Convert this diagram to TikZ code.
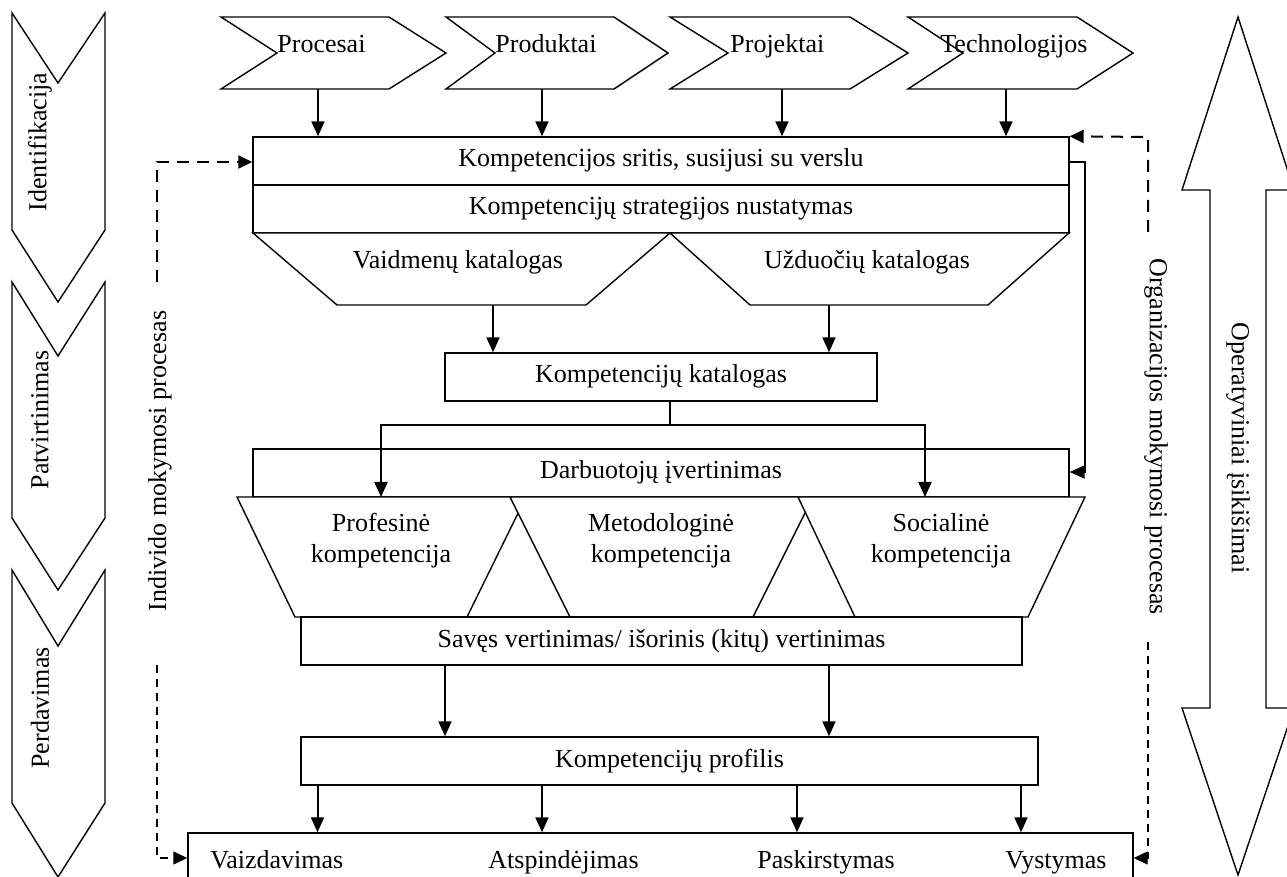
\documentclass[tikz,border=0pt]{standalone}
\usepackage{fontspec}
\setmainfont{Liberation Serif}
\usetikzlibrary{arrows.meta}

\begin{document}
\begin{tikzpicture}[x=0.5pt,y=-0.5pt,
  every node/.style={font=\fontsize{13}{15.5}\selectfont},
  shp/.style={draw, line width=0.7pt, fill=white},
  box/.style={shp, rectangle, inner sep=0pt, minimum height=24pt, text height=9pt, text depth=3pt},
  lbl/.style={inner sep=0pt},
  arr/.style={line width=1pt, -{Triangle[width=6.5pt,length=7.5pt]}},
  dashtop/.style={line width=1pt, dash pattern=on 6pt off 4pt, -{Triangle[width=6.5pt,length=7pt]}},
  dashlow/.style={line width=0.65pt, dash pattern=on 4pt off 3pt, -{Triangle[width=6.5pt,length=7pt]}},
]
\useasboundingbox (0,0) rectangle (1287,877);

% ---- left phase chevrons (pointing down)
\draw[shp] (12,13) -- (58,83) -- (105,13) -- (105,230) -- (58,302) -- (12,230) -- cycle;
\draw[shp] (12,282) -- (58,356) -- (105,282) -- (105,518) -- (58,590) -- (12,518) -- cycle;
\draw[shp] (12,570) -- (58,646) -- (105,570) -- (105,803) -- (58,877) -- (12,803) -- cycle;
\node[lbl, rotate=90] (ident) at (40,142) {Identifikacija};
\node[lbl, rotate=90] (patv) at (40,420) {Patvirtinimas};
\node[lbl, rotate=90] (perd) at (40,708) {Perdavimas};

% ---- right double arrow
\draw[shp] (1238,17) -- (1294,190) -- (1266,190) -- (1266,708) -- (1294,708) -- (1238,875)
  -- (1182,708) -- (1210,708) -- (1210,190) -- (1182,190) -- cycle;
\node[lbl, rotate=-90] (oper) at (1238,448) {Operatyviniai įsikišimai};

% ---- top input chevrons
\draw[shp] (221,17) -- (389,17) -- (446,53) -- (389,89) -- (221,89) -- (277,53) -- cycle;
\draw[shp] (446,17) -- (614,17) -- (668,53) -- (614,89) -- (446,89) -- (495,53) -- cycle;
\draw[shp] (670,17) -- (850,17) -- (908,53) -- (850,89) -- (670,89) -- (728,53) -- cycle;
\draw[shp] (908,17) -- (1077,17) -- (1133,53) -- (1077,89) -- (908,89) -- (963,53) -- cycle;
\node[lbl, anchor=base west] (procesai) at (277,53) {Procesai};
\node[lbl, anchor=base west] (produktai) at (495,53) {Produktai};
\node[lbl, anchor=base west] (projektai) at (730,53) {Projektai};
\node[lbl, anchor=base west] (technologijos) at (940,53) {Technologijos};
\coordinate (s1) at (318,89);
\coordinate (s2) at (542,89);
\coordinate (s3) at (782,89);
\coordinate (s4) at (1006,89);

% ---- competence area and strategy
\node[box, minimum width=408pt] (k1) at (661,161) {Kompetencijos sritis, susijusi su verslu};
\node[box, minimum width=408pt] (k2) at (661,209) {Kompetencijų strategijos nustatymas};

% ---- role and task catalogues
\draw[shp] (253,233) -- (670,233) -- (586,305) -- (337,305) -- cycle;
\draw[shp] (670,233) -- (1069,233) -- (988,305) -- (750,305) -- cycle;
\node[lbl] (vaid) at (458,262) {Vaidmenų katalogas};
\node[lbl] (uzd) at (867,262) {Užduočių katalogas};
\coordinate (vb) at (493,305);
\coordinate (ub) at (829,305);

% ---- competence catalogue
\node[box, minimum width=216pt] (k3) at (661,377) {Kompetencijų katalogas};
\coordinate (br) at (670,425);
\coordinate (proftop) at (381,497);
\coordinate (soctop) at (925,497);

% ---- employee assessment
\node[box, minimum width=408pt] (k4) at (661,473) {Darbuotojų įvertinimas};

% ---- three competence kinds
\draw[shp] (237,497) -- (526,497) -- (467,617) -- (295,617) -- cycle;
\draw[shp] (510,497) -- (813,497) -- (753,617) -- (570,617) -- cycle;
\draw[shp] (798,497) -- (1085,497) -- (1028,617) -- (855,617) -- cycle;
\node[lbl, align=center] (prof) at (381,541) {Profesinė\\kompetencija};
\node[lbl, align=center] (metod) at (661,541) {Metodologinė\\kompetencija};
\node[lbl, align=center] (soc) at (941,541) {Socialinė\\kompetencija};

% ---- evaluation, profile, use
\node[box, minimum width=360.5pt] (k5) at (661.5,641) {Savęs vertinimas/ išorinis (kitų) vertinimas};
\node[box, minimum width=368.5pt] (k6) at (669.5,761) {Kompetencijų profilis};
\node[box, minimum width=472.5pt, minimum height=40pt] (k7) at (660.5,873) {};
\node[lbl, anchor=base west] (vaizd) at (210,868) {Vaizdavimas};
\node[lbl, anchor=base west] (atsp) at (488,868) {Atspindėjimas};
\node[lbl, anchor=base west] (pask) at (757,868) {Paskirstymas};
\node[lbl, anchor=base west] (vyst) at (1005,868) {Vystymas};

\coordinate (x445) at (445,0);
\coordinate (x829) at (829,0);
\coordinate (x318) at (317.5,0);
\coordinate (x542) at (542,0);
\coordinate (x797) at (797,0);
\coordinate (x1021) at (1021,0);

% ---- solid connectors
\draw[arr] (s1) -- (s1 |- k1.north);
\draw[arr] (s2) -- (s2 |- k1.north);
\draw[arr] (s3) -- (s3 |- k1.north);
\draw[arr] (s4) -- (s4 |- k1.north);
\draw[arr] (vb) -- (vb |- k3.north);
\draw[arr] (ub) -- (ub |- k3.north);
\draw[arr] (k3.south -| br) -- (br) -| (proftop);
\draw[arr] (br) -| (soctop);
\coordinate (bk1) at (1085,162);
\coordinate (bk2) at (1085,472);
\draw[arr] (k1.east |- bk1) -- (bk1) -- (bk2) -- (bk2 -| k4.east);
\draw[arr] (k5.south -| x445) -- (k6.north -| x445);
\draw[arr] (k5.south -| x829) -- (k6.north -| x829);
\draw[arr] (k6.south -| x318) -- (k7.north -| x318);
\draw[arr] (k6.south -| x542) -- (k7.north -| x542);
\draw[arr] (k6.south -| x797) -- (k7.north -| x797);
\draw[arr] (k6.south -| x1021) -- (k7.north -| x1021);

% ---- learning loops (dashed)
\coordinate (ld1) at (157,282);
\coordinate (ld2) at (157,162);
\coordinate (ld3) at (157,665);
\coordinate (ld4) at (157,858);
\coordinate (rd1) at (1148,232);
\coordinate (rd2) at (1148,137);
\coordinate (rd3) at (1148,642);
\coordinate (rd4) at (1148,858);
\draw[dashtop] (ld1) -- (ld2) -- (ld2 -| k1.west);
\draw[dashlow] (ld3) -- (ld4) -- (ld4 -| k7.west);
\draw[dashtop] (rd1) -- (rd2) -- (k1.north east);
\draw[dashlow] (rd3) -- (rd4) -- (rd4 -| k7.east);
\node[lbl, rotate=90] (indiv) at (160,461) {Individo mokymosi procesas};
\node[lbl, rotate=-90] (organ) at (1156,437) {Organizacijos mokymosi procesas};
\end{tikzpicture}
\end{document}
